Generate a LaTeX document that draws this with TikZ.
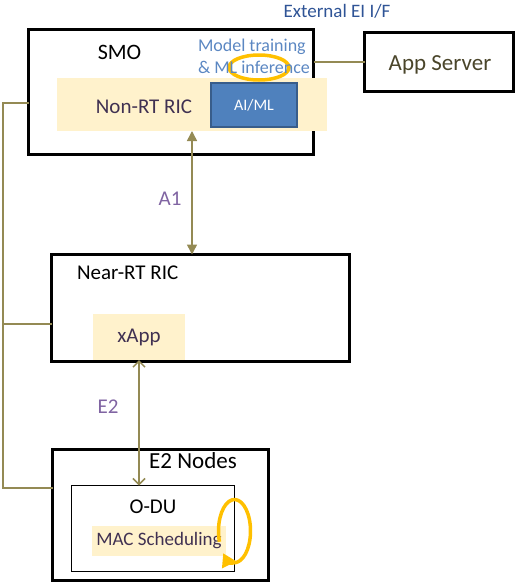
\documentclass[tikz,border=0pt]{standalone}
\usepackage{fontspec}
\setmainfont{Carlito}
\usetikzlibrary{arrows.meta,positioning}
\definecolor{bandyellow}{HTML}{FFF2CC}
\definecolor{aimlblue}{HTML}{4F81BD}
\definecolor{aimlborder}{HTML}{385D8A}
\definecolor{looporange}{HTML}{FFC000}
\definecolor{linkolive}{HTML}{948A54}
\definecolor{darkpurple}{HTML}{403152}
\definecolor{ifpurple}{HTML}{8064A2}
\definecolor{noteblue}{HTML}{5B87C2}
\definecolor{eiblue}{HTML}{2F5496}
\definecolor{servertext}{HTML}{4A452A}
\tikzset{big box/.style={draw,line width=3pt},
         small box/.style={draw,line width=1.5pt},
         band/.style={fill=bandyellow,text=darkpurple},
         aiml box/.style={fill=aimlblue,draw=aimlborder,line width=2pt,text=white},
         olive line/.style={draw=linkolive,line width=1.5pt},
         loop line/.style={draw=looporange,line width=3.5pt},
         a1 arrow/.style={olive line,{Triangle[length=10pt,width=10pt]}-{Triangle[length=10pt,width=10pt]}},
         e2 arrow/.style={olive line,{Straight Barb[length=6pt,width=12pt]}-{Straight Barb[length=6pt,width=12pt]}},
         if label/.style={text=ifpurple,font=\fontsize{21}{25}\selectfont},
}

\begin{document}
\begin{tikzpicture}[x=1pt,y=-1pt,inner sep=0pt,outer sep=0pt]

\useasboundingbox (0,0) rectangle (517,584);

% interface bus on the left
\coordinate (bus1) at (3,103);
\coordinate (bus2) at (3,324);
\coordinate (bus3) at (3,488);

% boxes
\node[big box,minimum width=285pt,minimum height=125pt] (smo) at (171,92) {};
\node[big box,minimum width=149pt,minimum height=59pt] (appsrv) at (439,62) {};
\node[big box,minimum width=298pt,minimum height=107pt] (nearrt) at (200.5,308) {};
\node[big box,minimum width=216pt,minimum height=131pt] (e2n) at (160.5,515) {};
\node[small box,minimum width=163pt,minimum height=86pt] (odu) at (153,528.5) {};

\draw[olive line] (bus1 -| smo.west) -- (bus1) -- (bus3) -- (bus3 -| e2n.west);
\draw[olive line] (bus2) -- (bus2 -| nearrt.west);
\draw[olive line] (appsrv.west) -- (appsrv.west -| smo.east);

\node[band,minimum width=270pt,minimum height=53pt] (nonrt) at (192,104.5) {};
\node[aiml box,minimum width=86pt,minimum height=44pt,font=\fontsize{16}{19}\selectfont] (aiml) at (254,105) {AI/ML};
\node[band,minimum width=92pt,minimum height=46pt,font=\fontsize{21}{25}\selectfont] (xapp) at (139,337) {xApp};
\node[band,minimum width=134pt,minimum height=30pt,font=\fontsize{19}{23}\selectfont] (mac) at (159,541) {MAC Scheduling};

% loops
\draw[loop line] (259,67.5) ellipse [x radius=30,y radius=12.5];
\coordinate (loopc) at (234.5,531);
\draw[loop line,-{Triangle[length=13pt,width=15pt]}] ([shift={(160:16 and 31.5)}]loopc)
    arc[start angle=160,end angle=495,x radius=16,y radius=31.5];

% interfaces
\coordinate (a1) at (192,0);
\draw[a1 arrow] (a1 |- nonrt.south) -- (a1 |- nearrt.north);
\draw[e2 arrow] (xapp.south) -- (xapp.south |- odu.north);

% labels
\node[anchor=base,font=\fontsize{22}{26}\selectfont] (smolabel) at (119.5,59) {SMO};
\node[anchor=base west,text=noteblue,font=\fontsize{18}{22}\selectfont] (train1) at (198,51) {Model training};
\node[anchor=base west,text=noteblue,font=\fontsize{18}{22}\selectfont] (train2) at (198,73) {\& ML inference};
\node[anchor=base,text=darkpurple,font=\fontsize{21}{25}\selectfont] (nonrtlabel) at (144,113) {Non-RT RIC};
\node[anchor=base,text=servertext,font=\fontsize{23}{27}\selectfont] (applabel) at (440,70) {App Server};
\node[anchor=base,text=eiblue,font=\fontsize{19}{23}\selectfont] (eilabel) at (337,17) {External EI I/F};
\node[anchor=base,if label] (a1label) at (170,205) {A1};
\node[anchor=base west,font=\fontsize{21}{25}\selectfont] (nearlabel) at (77,279) {Near-RT RIC};
\node[anchor=base,if label] (e2label) at (108,413) {E2};
\node[anchor=base,font=\fontsize{23}{27}\selectfont] (e2nlabel) at (193,468) {E2 Nodes};
\node[anchor=base,font=\fontsize{21}{25}\selectfont] (odulabel) at (153,513) {O-DU};

\end{tikzpicture}
\end{document}
